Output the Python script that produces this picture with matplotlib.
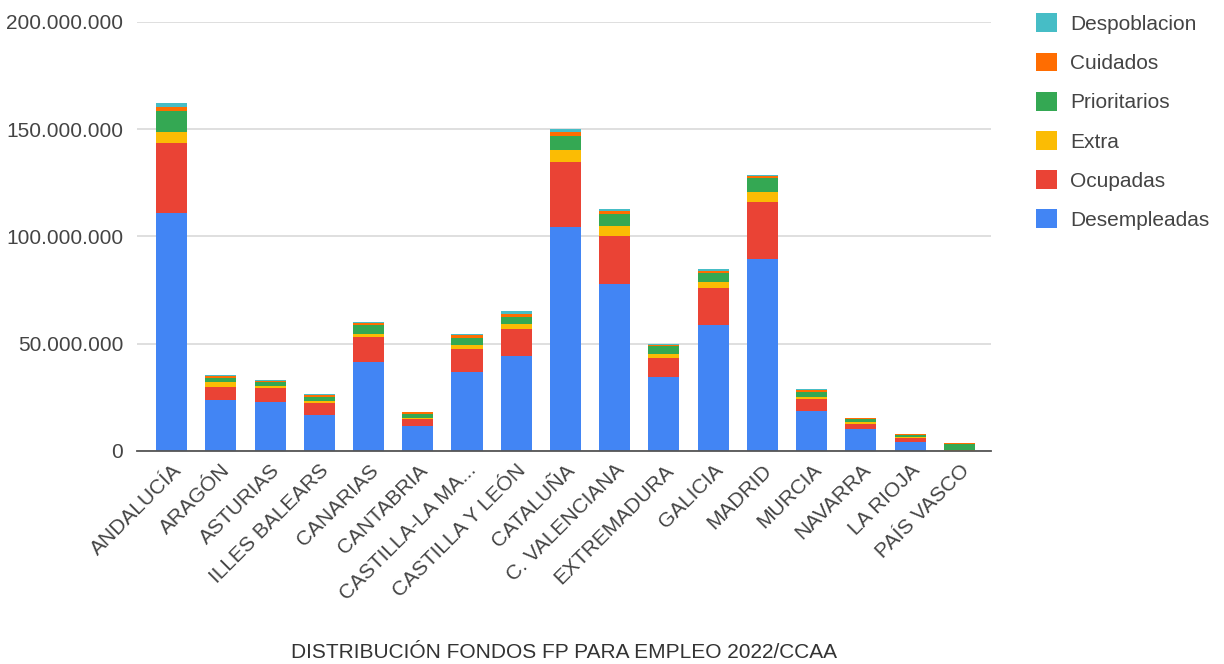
import numpy as np
import matplotlib
matplotlib.use("Agg")
import matplotlib.pyplot as plt
from matplotlib.ticker import FuncFormatter
from matplotlib.patches import Patch

plt.rcParams['font.family'] = ['Liberation Sans', 'DejaVu Sans']

# comunidades autonomas
ccaa = ["ANDALUCÍA", "ARAGÓN", "ASTURIAS", "ILLES BALEARS", "CANARIAS",
        "CANTABRIA", "CASTILLA-LA MA...", "CASTILLA Y LEÓN", "CATALUÑA",
        "C. VALENCIANA", "EXTREMADURA", "GALICIA", "MADRID", "MURCIA",
        "NAVARRA", "LA RIOJA", "PAÍS VASCO"]

# valores en millones de euros
desempleadas = [111.1, 23.8, 22.7, 16.8, 41.2, 11.8, 37.0, 44.4, 104.6,
                77.9, 34.3, 58.6, 89.4, 18.6, 10.1, 4.3, 0.0]
ocupadas = [32.6, 6.2, 6.8, 5.4, 11.8, 3.1, 10.7, 12.6, 30.0,
            22.4, 9.2, 17.4, 26.6, 5.6, 2.3, 1.6, 0.0]
extra = [4.8, 1.9, 0.9, 0.9, 1.4, 0.6, 1.6, 2.2, 5.7,
         4.5, 1.6, 2.5, 4.5, 1.1, 0.9, 0.5, 0.4]
prioritarios = [10.1, 1.9, 1.5, 2.2, 4.4, 1.7, 3.3, 3.4, 6.7,
                5.7, 3.9, 4.4, 6.5, 2.3, 1.6, 0.9, 2.7]
cuidados = [1.9, 1.0, 0.8, 0.8, 0.9, 0.8, 1.2, 1.2, 1.7,
            1.5, 0.4, 1.1, 1.1, 0.9, 0.4, 0.4, 0.6]
despoblacion = [1.5, 0.8, 0.3, 0.3, 0.3, 0.2, 0.8, 1.5, 1.5,
                0.9, 0.3, 0.8, 0.6, 0.3, 0.2, 0.2, 0.0]

series = [("Desempleadas", desempleadas, "#4285F4"),
          ("Ocupadas", ocupadas, "#EA4335"),
          ("Extra", extra, "#FBBC04"),
          ("Prioritarios", prioritarios, "#34A853"),
          ("Cuidados", cuidados, "#FF6D01"),
          ("Despoblacion", despoblacion, "#46BDC6")]

fs = 15

fig = plt.figure(figsize=(12.24, 6.64), dpi=100)
ax = fig.add_axes([0.112, 0.321, 0.698, 0.646])

x = np.arange(len(ccaa))
base = np.zeros(len(ccaa))
for nombre, vals, col in series:
    v = np.array(vals) * 1e6
    ax.bar(x, v, 0.63, bottom=base, color=col, zorder=3, linewidth=0)
    base = base + v

ax.set_ylim(0, 200e6)
ax.set_yticks([0, 50e6, 100e6, 150e6, 200e6])
ax.yaxis.set_major_formatter(FuncFormatter(lambda v, p: f"{int(v):,}".replace(",", ".")))
ax.set_xlim(-0.7, 16.65)
ax.set_xticks(x)
ax.set_xticklabels(ccaa, rotation=45, ha='right', rotation_mode='anchor')
ax.grid(axis='y', color='#d9d9d9', linewidth=1.2, zorder=0)
for s in ['top', 'right', 'left']:
    ax.spines[s].set_visible(False)
ax.spines['bottom'].set_color('#555555')
ax.spines['bottom'].set_linewidth(1.3)
ax.spines['bottom'].set_zorder(4)
ax.tick_params(axis='both', length=0, labelsize=fs, colors='#444444')
ax.tick_params(axis='y', pad=10)
ax.tick_params(axis='x', pad=7)

fig.text(0.461, 0.017, "DISTRIBUCIÓN FONDOS FP PARA EMPLEO 2022/CCAA", fontsize=fs,
         color='#333333', ha='center', va='center')

handles = [Patch(facecolor=c, label=n) for n, _, c in series][::-1]
fig.legend(handles=handles, loc='upper left', bbox_to_anchor=(0.831, 1.008),
           frameon=False, fontsize=fs, handlelength=1.0, handleheight=1.0,
           labelspacing=0.9, handletextpad=0.65, labelcolor='#444444')

fig.savefig("out.png", dpi=100, facecolor='white')
